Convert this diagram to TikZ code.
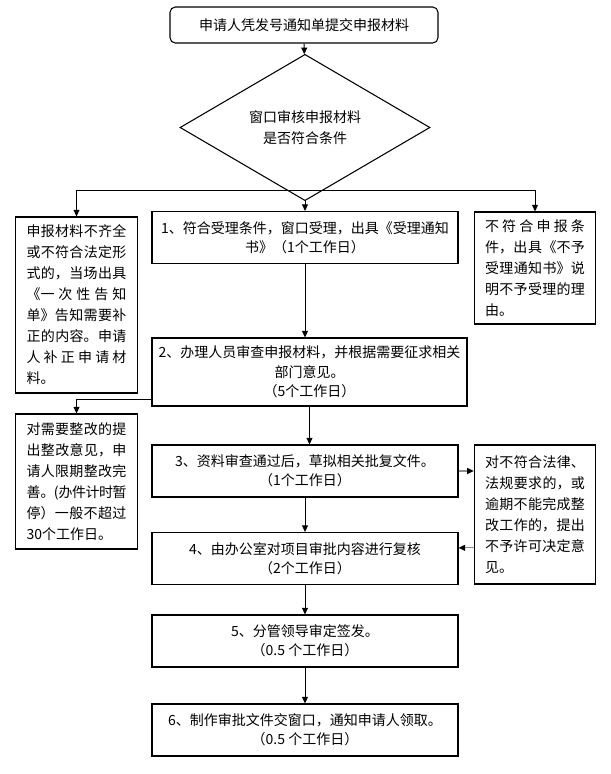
\documentclass[tikz,border=0pt]{standalone}
\usepackage{fontspec}
\setmainfont{Noto Sans CJK SC}
\usetikzlibrary{shapes.geometric, arrows.meta}
\XeTeXlinebreaklocale "zh"
\XeTeXlinebreakskip=0pt plus 1.5pt minus 0.5pt
\setlength{\parindent}{0pt}
\tolerance=9999
\hbadness=10000

\begin{document}
\begin{tikzpicture}[
    x=0.75pt, y=-0.75pt,
    line width=0.8pt,
    base/.style={draw, align=center, inner sep=0pt, font={\fontsize{10.5pt}{14.5pt}\selectfont}},
    startbox/.style={base, rounded corners=4pt, minimum width=201pt, minimum height=27pt},
    decision/.style={base, diamond, minimum width=187.5pt, minimum height=67pt, font={\fontsize{10.5pt}{16pt}\selectfont}},
    stepbox/.style={base, minimum width=229.5pt, minimum height=39pt},
    sidebox/.style={draw, text width=75pt, align=justify, inner xsep=8pt, inner ysep=0pt, minimum width=90.75pt, font={\fontsize{10.5pt}{15.75pt}\selectfont}},
    arrow/.style={-{Triangle[length=5pt, width=4.5pt]}, line width=0.75pt},
    grayarrow/.style={-{Triangle[length=5pt, width=4.5pt, color=black]}, line width=0.9pt, draw=black!45}
]
    \useasboundingbox (0,0) rectangle (610,774);

    % main column
    \node[startbox] (apply) at (304,25) {申请人凭发号通知单提交申报材料};
    \node[decision] (check) at (305,127.5) {窗口审核申报材料\\是否符合条件};
    \node[stepbox] (accept) at (305,237.5) {1、符合受理条件，窗口受理，出具《受理通知\\书》（1个工作日）};
    \node[stepbox, minimum width=236.25pt, minimum height=51pt] (review) at (309.5,372) {2、办理人员审查申报材料，并根据需要征求相关\\部门意见。\\（5个工作日）};
    \node[stepbox] (draft) at (305,471) {3、资料审查通过后，草拟相关批复文件。\\（1个工作日）};
    \node[stepbox] (recheck) at (305,558.5) {4、由办公室对项目审批内容进行复核\\（2个工作日）};
    \node[stepbox] (sign) at (305,641) {5、分管领导审定签发。\\（0.5 个工作日）};
    \node[stepbox] (notify) at (305,730) {6、制作审批文件交窗口，通知申请人领取。\\（0.5 个工作日）};

    % side boxes
    \node[sidebox, minimum height=132pt] (supply) at (76.5,305) {申报材料不齐全\linebreak 或不符合法定形\linebreak 式的，当场出具\linebreak 《一次性告知\linebreak 单》告知需要补\linebreak 正的内容。申请\linebreak 人补正申请材\linebreak 料。};
    \node[sidebox, minimum height=84pt] (reject) at (535,268) {不符合申报条\linebreak 件，出具《不予\linebreak 受理通知书》说\linebreak 明不予受理的理\linebreak 由。};
    \node[sidebox, minimum height=101.25pt] (rectify) at (76.5,481.5) {对需要整改的提\linebreak 出整改意见，申\linebreak 请人限期整改完\linebreak 善。(办件计时暂\linebreak 停）一般不超过\linebreak 30个工作日。};
    \node[sidebox, minimum height=104.25pt] (deny) at (535,514.5) {对不符合法律、\linebreak 法规要求的，或\linebreak 逾期不能完成整\linebreak 改工作的，提出\linebreak 不予许可决定意\linebreak 见。};

    % connectors
    \coordinate (split) at (305,190);
    \coordinate (fork) at ([yshift=5pt]review.south west);
    \coordinate (back) at ([yshift=-25pt]deny.west);

    \draw[arrow] (apply) -- (check);
    \draw[arrow] (check) -- (accept);
    \draw[arrow] (split) -| (supply.north);
    \draw[arrow] (split) -| (reject.north);
    \draw[arrow] (accept.south) -- (accept.south |- review.north);
    \draw[arrow] (fork) -| (rectify.north);
    \draw[arrow] (review.south) -- (review.south |- draft.north);
    \draw[grayarrow] (draft.east) -- (draft.east -| deny.west);
    \draw[grayarrow] (back) -- (back -| recheck.east);
    \draw[arrow] (draft) -- (recheck);
    \draw[arrow] (recheck) -- (sign);
    \draw[arrow] (sign) -- (notify);
\end{tikzpicture}
\end{document}
